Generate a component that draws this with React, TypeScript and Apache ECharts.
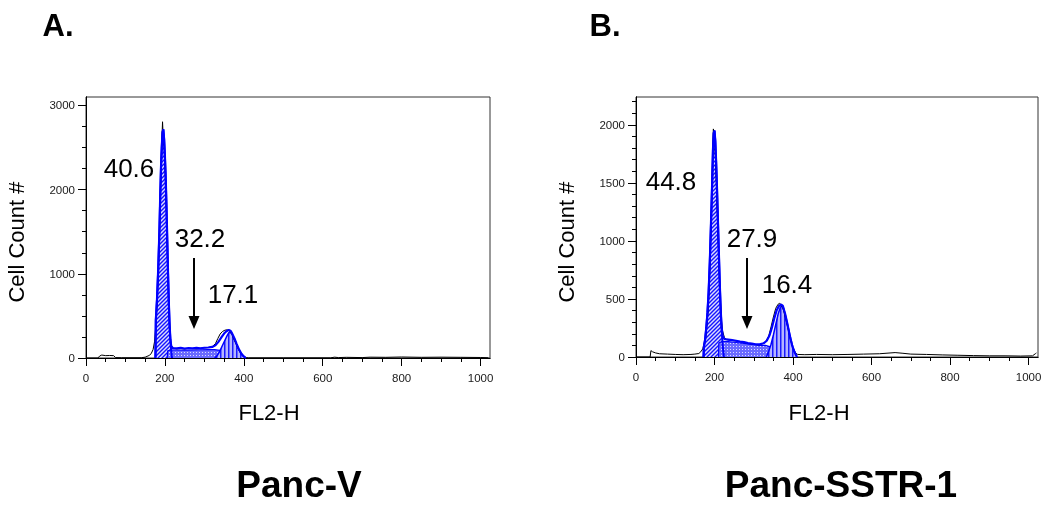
import React, { useEffect, useRef } from "react";
import * as echarts from "echarts";

// ---------- tick values ----------
const xMajorTicks = [0, 200, 400, 600, 800, 1000];
const xMinorTicks = [0, 50, 100, 150, 200, 250, 300, 350, 400, 450, 500, 550, 600, 650, 700, 750, 800, 850, 900, 950, 1000];
const yMajorTicksA = [0, 1000, 2000, 3000];
const yMinorTicksA = [0, 250, 500, 750, 1000, 1250, 1500, 1750, 2000, 2250, 2500, 2750, 3000];
const yMajorTicksB = [0, 500, 1000, 1500, 2000];
const yMinorTicksB = [0, 100, 200, 300, 400, 500, 600, 700, 800, 900, 1000, 1100, 1200, 1300, 1400, 1500, 1600, 1700, 1800, 1900, 2000, 2100, 2200];

// ---------- Panel A (Panc-V) ----------
const rawA = [
  [0, 0], [30, 0], [35, 25], [40, 35], [50, 28], [60, 30], [70, 28], [75, 5], [90, 3], [140, 3], [150, 10], [160, 30],
  [165, 50], [170, 100], [174, 200], [177, 400], [180, 650], [183, 1000], [186, 1500], [188, 1900], [190, 2250],
  [192, 2550], [194, 2806], [195, 2700], [197, 2600], [199, 2450], [201, 2200], [203, 1900], [205, 1500], [207, 1150],
  [209, 800], [211, 500], [213, 300], [215, 180], [218, 130], [222, 115], [230, 110], [240, 112], [250, 108], [260, 115],
  [270, 112], [280, 110], [290, 115], [300, 120], [310, 125], [320, 135], [328, 170], [334, 230], [340, 285], [346, 315],
  [352, 330], [358, 335], [364, 320], [370, 280], [376, 210], [382, 150], [388, 90], [394, 45], [400, 15], [406, 5],
  [412, 2], [500, 2], [620, 2], [630, 10], [640, 5], [660, 8], [700, 5], [720, 10], [760, 8], [800, 12], [850, 8],
  [900, 10], [950, 8], [1000, 6], [1020, 3],
];
const fitA = [
  [176, 0], [177, 450], [180, 700], [183, 1050], [186, 1500], [188, 1900], [190, 2250], [192, 2500], [194, 2680],
  [196, 2716], [198, 2600], [200, 2400], [202, 2150], [204, 1800], [206, 1400], [208, 1000], [210, 650], [212, 380],
  [214, 220], [216, 140], [220, 118], [230, 115], [240, 120], [250, 112], [260, 118], [270, 114], [280, 120], [290, 116],
  [300, 122], [310, 125], [320, 132], [328, 150], [336, 195], [344, 250], [350, 290], [356, 318], [362, 333], [366, 325],
  [370, 295], [376, 235], [382, 165], [388, 100], [394, 50], [400, 18], [405, 0],
];
const g1A = [
  [176, 0], [177, 450], [180, 700], [183, 1050], [186, 1500], [188, 1900], [190, 2250], [192, 2500], [194, 2680],
  [196, 2716], [198, 2600], [200, 2400], [202, 2150], [204, 1800], [206, 1400], [208, 1000], [210, 650], [212, 380],
  [214, 200], [216, 90], [218, 0],
];
const sA = [
  [206, 0], [207, 85], [215, 95], [230, 95], [250, 92], [270, 95], [290, 98], [310, 100], [325, 100], [340, 90],
  [350, 70], [358, 40], [366, 10], [370, 0],
];
const g2A = [
  [326, 0], [332, 25], [338, 70], [344, 130], [350, 190], [356, 250], [362, 300], [366, 305], [370, 285], [376, 230],
  [382, 160], [388, 95], [394, 45], [400, 15], [405, 0],
];

// ---------- Panel B (Panc-SSTR-1) ----------
const rawB = [
  [0, 0], [36, 0], [38, 55], [42, 45], [50, 35], [60, 28], [80, 25], [100, 22], [120, 20], [140, 22], [150, 25],
  [160, 30], [165, 45], [170, 70], [174, 120], [178, 180], [181, 300], [184, 420], [187, 680], [190, 1000], [192, 1250],
  [194, 1550], [196, 1830], [197, 1965], [199, 1940], [201, 1820], [203, 1670], [205, 1470], [207, 1260], [209, 1060],
  [211, 860], [213, 660], [215, 490], [217, 340], [220, 230], [225, 170], [230, 150], [240, 145], [250, 140], [260, 135],
  [270, 130], [280, 120], [290, 115], [300, 110], [310, 105], [320, 110], [330, 130], [338, 180], [344, 260], [350, 345],
  [356, 420], [362, 455], [366, 462], [370, 450], [376, 400], [382, 320], [388, 230], [394, 140], [400, 75], [406, 35],
  [412, 22], [430, 20], [460, 22], [500, 20], [540, 22], [580, 25], [620, 28], [660, 38], [680, 32], [700, 25],
  [740, 22], [780, 18], [820, 15], [860, 12], [900, 10], [940, 10], [980, 8], [1010, 10], [1018, 30], [1020, 35],
];
const fitB = [
  [172, 0], [173, 90], [176, 150], [179, 250], [182, 380], [185, 560], [188, 820], [191, 1150], [194, 1500],
  [196, 1780], [198, 1930], [200, 1951], [202, 1860], [204, 1690], [206, 1490], [208, 1260], [210, 1020], [212, 790],
  [214, 570], [216, 390], [218, 260], [221, 180], [225, 155], [235, 150], [245, 145], [255, 140], [265, 133], [275, 128],
  [285, 120], [295, 115], [305, 110], [315, 110], [325, 118], [333, 140], [340, 185], [346, 250], [352, 330], [358, 400],
  [364, 440], [370, 452], [374, 440], [380, 370], [386, 280], [392, 180], [398, 95], [404, 40], [410, 0],
];
const g1B = [
  [172, 0], [173, 90], [176, 150], [179, 250], [182, 380], [185, 560], [188, 820], [191, 1150], [194, 1500],
  [196, 1780], [198, 1930], [200, 1951], [202, 1860], [204, 1690], [206, 1490], [208, 1260], [210, 1020], [212, 790],
  [214, 570], [216, 390], [218, 250], [220, 140], [222, 60], [224, 0],
];
const sB = [
  [210, 0], [211, 120], [220, 135], [235, 132], [255, 125], [275, 118], [295, 108], [315, 100], [330, 100], [340, 90],
  [350, 65], [358, 35], [364, 10], [368, 0],
];
const g2B = [
  [332, 0], [338, 50], [344, 110], [350, 190], [356, 280], [362, 370], [368, 430], [372, 440], [376, 420], [382, 340],
  [388, 250], [394, 160], [400, 80], [406, 30], [410, 0],
];

const FONT = "'Liberation Sans', Arial, Helvetica, sans-serif";

function makePattern(kind: string): HTMLCanvasElement {
  const c = document.createElement("canvas");
  if (kind === "diag") {
    c.width = 4; c.height = 4;
    const g = c.getContext("2d")!;
    g.fillStyle = "#dcdcff"; g.fillRect(0, 0, 4, 4);
    g.strokeStyle = "#1515ff"; g.lineWidth = 1.4;
    g.beginPath();
    g.moveTo(-1, 5); g.lineTo(5, -1);
    g.moveTo(-1, 1); g.lineTo(1, -1);
    g.moveTo(3, 5); g.lineTo(5, 3);
    g.stroke();
  } else if (kind === "dots") {
    c.width = 3; c.height = 3;
    const g = c.getContext("2d")!;
    g.fillStyle = "#6a6aff"; g.fillRect(0, 0, 3, 3);
    g.fillStyle = "#dadaff"; g.fillRect(1, 1, 1, 1);
  } else {
    c.width = 4; c.height = 4;
    const g = c.getContext("2d")!;
    g.fillStyle = "#b4b4ff"; g.fillRect(0, 0, 4, 4);
    g.fillStyle = "#1a1aff"; g.fillRect(0, 0, 1.5, 4);
  }
  return c;
}

export default function App() {
  const ref = useRef<HTMLDivElement>(null);
  useEffect(() => {
    if (!ref.current) return;
    const chart = echarts.init(ref.current, null, { renderer: "svg" });
    const pDiag = { image: makePattern("diag"), repeat: "repeat" };
    const pDots = { image: makePattern("dots"), repeat: "repeat" };
    const pVert = { image: makePattern("vert"), repeat: "repeat" };

    const axisLineStyle = { color: "#000", width: 1 };
    const labelStyle = { fontSize: 11.5, color: "#1a1a1a", fontFamily: FONT, formatter: (v: number) => String(v) };

    const xAxes: any[] = [];
    const yAxes: any[] = [];
    [0, 1].forEach((gi) => {
      xAxes.push({
        gridIndex: gi, type: "value", min: 0, max: 1024, position: "bottom",
        axisLine: { show: true, onZero: false, lineStyle: axisLineStyle },
        axisTick: { show: true, customValues: xMajorTicks, length: 8, lineStyle: axisLineStyle },
        axisLabel: { show: true, customValues: xMajorTicks, margin: 14, ...labelStyle },
        splitLine: { show: false },
      });
      xAxes.push({
        gridIndex: gi, type: "value", min: 0, max: 1024, position: "bottom",
        axisLine: { show: true, onZero: false, lineStyle: axisLineStyle },
        axisTick: { show: true, customValues: xMinorTicks, length: 4, lineStyle: axisLineStyle },
        axisLabel: { show: false },
        splitLine: { show: false },
      });
      const yMax = gi === 0 ? 3100 : 2240;
      const maj = gi === 0 ? yMajorTicksA : yMajorTicksB;
      const min = gi === 0 ? yMinorTicksA : yMinorTicksB;
      yAxes.push({
        gridIndex: gi, type: "value", min: 0, max: yMax, position: "left",
        axisLine: { show: true, onZero: false, lineStyle: axisLineStyle },
        axisTick: { show: true, customValues: maj, length: 8, lineStyle: axisLineStyle },
        axisLabel: { show: true, customValues: maj, margin: 11, ...labelStyle },
        splitLine: { show: false },
      });
      yAxes.push({
        gridIndex: gi, type: "value", min: 0, max: yMax, position: "left",
        axisLine: { show: true, onZero: false, lineStyle: axisLineStyle },
        axisTick: { show: true, customValues: min, length: 4, lineStyle: axisLineStyle },
        axisLabel: { show: false },
        splitLine: { show: false },
      });
    });

    const mk = (gi: number, data: number[][], opts: any) => ({
      type: "line", xAxisIndex: gi * 2, yAxisIndex: gi * 2, data,
      showSymbol: false, symbol: "none", silent: true, ...opts,
    });
    const panelSeries = (gi: number, raw: number[][], fit: number[][], g1: number[][], s: number[][], g2: number[][]) => [
      mk(gi, g1, { z: 2, lineStyle: { color: "#0000ff", width: 2 }, areaStyle: { color: pDiag, opacity: 1 } }),
      mk(gi, s, { z: 2, lineStyle: { color: "#0000ff", width: 1.2 }, areaStyle: { color: pDots, opacity: 1 } }),
      mk(gi, g2, { z: 3, lineStyle: { color: "#0000ff", width: 1.5 }, areaStyle: { color: pVert, opacity: 1 } }),
      mk(gi, raw, { z: 4, lineStyle: { color: "#000", width: 1 } }),
      mk(gi, fit, { z: 5, lineStyle: { color: "#0000ff", width: 2.2 } }),
    ];

    const txt = (x: number, y: number, text: string, font: string, rot = 0) => ({
      type: "text", x, y, rotation: rot, silent: true,
      style: { text, font, fill: "#000", align: "center", verticalAlign: "middle" },
    });
    const numFont = `26px ${FONT}`;
    const axFont = `22px ${FONT}`;
    const arrow = (x: number) => [
      { type: "line", silent: true, shape: { x1: x, y1: 258, x2: x, y2: 318 }, style: { stroke: "#000", lineWidth: 2 } },
      { type: "polygon", silent: true, shape: { points: [[x - 5.5, 316], [x + 5.5, 316], [x, 329]] }, style: { fill: "#000" } },
    ];

    chart.setOption({
      animation: false,
      grid: [
        { left: 86, top: 97, width: 404, height: 261, show: true, borderColor: "#333", borderWidth: 1, backgroundColor: "transparent" },
        { left: 636, top: 97, width: 402, height: 260, show: true, borderColor: "#333", borderWidth: 1, backgroundColor: "transparent" },
      ],
      xAxis: xAxes,
      yAxis: yAxes,
      series: [
        ...panelSeries(0, rawA, fitA, g1A, sA, g2A),
        ...panelSeries(1, rawB, fitB, g1B, sB, g2B),
      ],
      graphic: [
        txt(58, 25, "A.", `bold 31px ${FONT}`),
        txt(605, 25, "B.", `bold 31px ${FONT}`),
        txt(129, 168, "40.6", numFont),
        txt(200, 238, "32.2", numFont),
        txt(233, 294, "17.1", numFont),
        txt(671, 181, "44.8", numFont),
        txt(752, 238, "27.9", numFont),
        txt(787, 284, "16.4", numFont),
        ...arrow(194),
        ...arrow(747),
        txt(16, 242, "Cell Count #", axFont, Math.PI / 2),
        txt(566, 242, "Cell Count #", axFont, Math.PI / 2),
        txt(269, 412, "FL2-H", axFont),
        txt(819, 412, "FL2-H", axFont),
        txt(299, 484, "Panc-V", `bold 37px ${FONT}`),
        txt(841, 484, "Panc-SSTR-1", `bold 37px ${FONT}`),
      ],
    });
    return () => chart.dispose();
  }, []);
  return <div ref={ref} style={{ position: "fixed", left: 0, top: 0, width: 1050, height: 508 }} />;
}
